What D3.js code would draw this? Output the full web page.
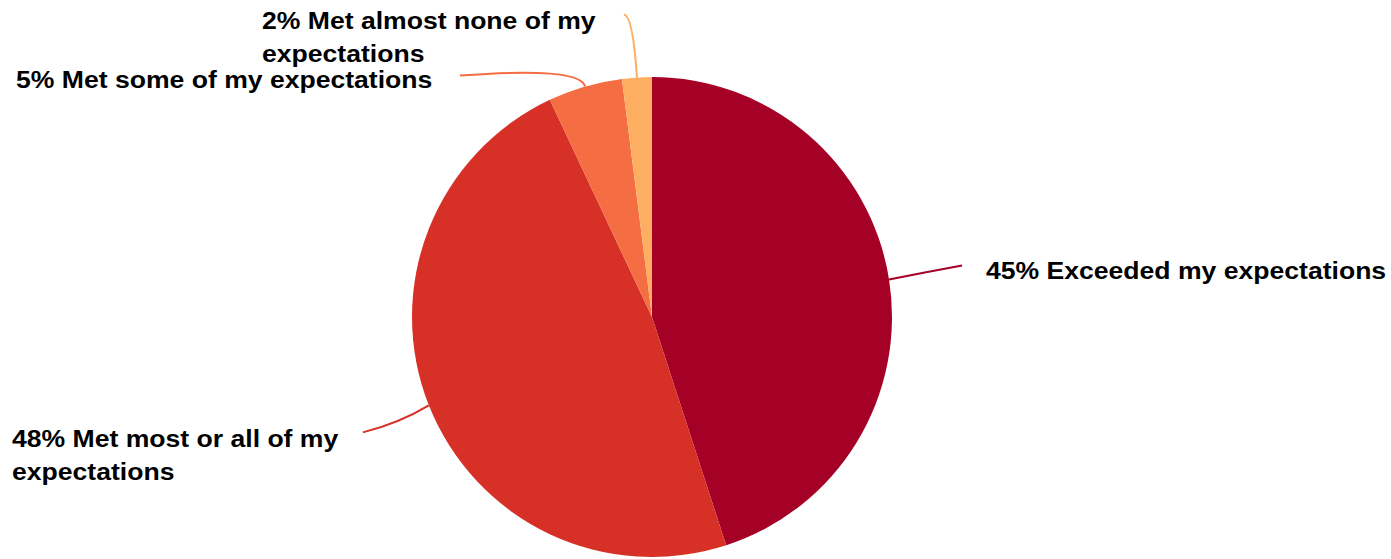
<!DOCTYPE html>
<html>
<head>
<meta charset="utf-8">
<script src="https://cdn.jsdelivr.net/npm/d3@7"></script>
<style>
  body { margin: 0; background: #fff; }
  svg { display: block; }
</style>
</head>
<body>
<div id="chart"></div>
<script>
const categories = [
  "Exceeded my expectations",
  "Met most or all of my expectations",
  "Met some of my expectations",
  "Met almost none of my expectations"
];
const values = [45, 48, 5, 2];
const colours = ["#a50026", "#d73027", "#f46d43", "#fdae61"];

// label text lines (wrapped as in the original)
const labelLines = [
  ["45% Exceeded my expectations"],
  ["48% Met most or all of my", "expectations"],
  ["5% Met some of my expectations"],
  ["2% Met almost none of my", "expectations"]
];

(function() {
  const width = 1391, height = 559;
  const cx = 652, cy = 317, radius = 240;
  const stretch = 1.155; // original labels are set wider than Liberation Sans

  const svg = d3.select("#chart").append("svg")
    .attr("width", width)
    .attr("height", height);

  const pie = d3.pie().sort(null).value(d => d)(values);
  const arc = d3.arc().innerRadius(0).outerRadius(radius);

  const g = svg.append("g").attr("transform", `translate(${cx},${cy})`);

  g.selectAll("path.slice")
    .data(pie)
    .enter()
    .append("path")
    .attr("class", "slice")
    .attr("d", arc)
    .attr("fill", (d, i) => colours[i]);

  // leader layout: control point and end point relative to the edge point
  const leaders = [
    { c: [35, -7], e: [73, -14], tx: 986, ty: 279 },
    { c: [-30, 18], e: [-66, 27], tx: 12, ty: 447 },
    { c: [-4, -20], e: [-125, -11], tx: 16, ty: 88 },
    { c: [-4, -62], e: [-13, -63], tx: 262, ty: 29 }
  ];

  pie.forEach((d, i) => {
    const mid = (d.startAngle + d.endAngle) / 2;
    const px = radius * Math.sin(mid);
    const py = -radius * Math.cos(mid);
    const L = leaders[i];
    const path = d3.path();
    path.moveTo(px, py);
    path.quadraticCurveTo(px + L.c[0], py + L.c[1], px + L.e[0], py + L.e[1]);
    g.append("path")
      .attr("d", path.toString())
      .attr("fill", "none")
      .attr("stroke", colours[i])
      .attr("stroke-width", 2);

    labelLines[i].forEach((line, j) => {
      const t = svg.append("text")
        .attr("x", L.tx)
        .attr("y", L.ty + j * 33)
        .attr("font-family", "Liberation Sans, Arial, sans-serif")
        .attr("font-weight", "bold")
        .attr("font-size", "23px")
        .attr("fill", "#000")
        .text(line);
      const w = t.node().getComputedTextLength();
      t.attr("textLength", w * stretch)
        .attr("lengthAdjust", "spacingAndGlyphs");
    });
  });
})();
</script>
</body>
</html>
